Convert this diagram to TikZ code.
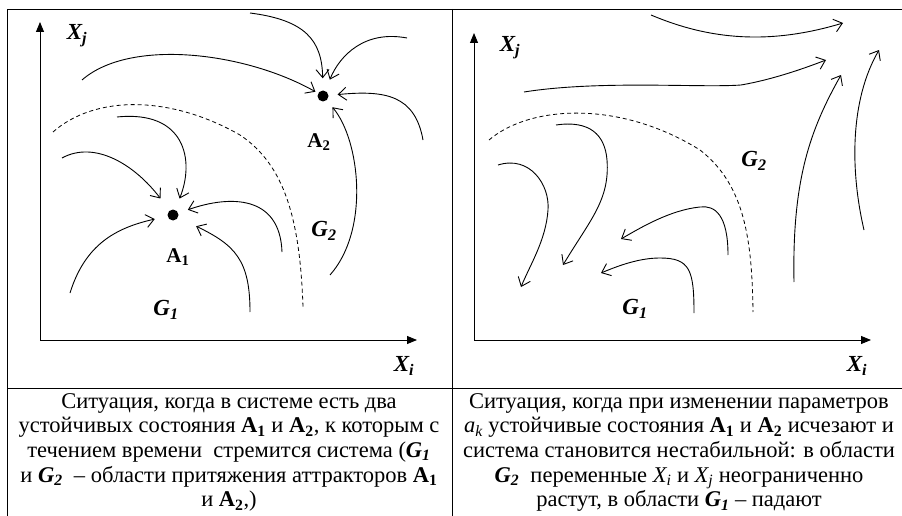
\documentclass[tikz,border=0pt]{standalone}
\usepackage{fontspec}
\setmainfont{Liberation Serif}
\usepackage{tikz}
\usetikzlibrary{arrows.meta, positioning, calc}
\tikzset{
  axisline/.style={line width=0.9pt, -{Triangle[length=10pt, width=8pt]}},
  flowline/.style={line width=0.9pt, -{Straight Barb[length=8pt, width=13pt]}},
  border/.style={dashed, line width=0.8pt, dash pattern=on 4pt off 3pt},
  frame/.style={line width=0.9pt},
  attractor/.style={circle, fill=black, inner sep=0pt, minimum size=11pt},
  lbl/.style={font=\fontsize{23}{25}\selectfont\bfseries\itshape, inner sep=0pt},
  albl/.style={font=\fontsize{21}{23}\selectfont\bfseries, inner sep=0pt},
  captext/.style={align=center, anchor=north, inner sep=0pt, font=\fontsize{22.5}{24.7}\selectfont}
}

\begin{document}
\begin{tikzpicture}[x=1pt, y=-1pt]
  \useasboundingbox (0,0) rectangle (902,516);

  % Рамка таблицы
  \draw[frame] (7,516) -- (7,9) -- (902,9);
  \draw[frame] (452.5,9) -- (452.5,516);
  \draw[frame] (7,388) -- (902,388);

  % ---------- Левая панель ----------
  \draw[axisline] (40,340) -- (40,22);
  \draw[axisline] (40,340) -- (417,340);
  \node[lbl] (xj1) at (77,36) {X\textsubscript{j}};
  \node[lbl] (xi1) at (404,366) {X\textsubscript{i}};

  % Аттракторы
  \node[attractor] (a1) at (173,215) {};
  \node[attractor] (a2) at (323,96) {};
  \node[albl] (a1lbl) at (178,257) {A\textsubscript{1}};
  \node[albl] (a2lbl) at (319,142) {A\textsubscript{2}};
  \node[lbl] (g1l) at (166,310) {G\textsubscript{1}};
  \node[lbl] (g2l) at (324,231) {G\textsubscript{2}};

  % Граница областей
  \draw[border] (53,132) .. controls (95,95) and (170,95) .. (240,135)
    .. controls (285,165) and (300,220) .. (303,307);

  % Траектории к A2
  \draw[flowline, shorten >=3pt] (82,80) .. controls (130,38) and (245,52) .. (a2);
  \draw[flowline, shorten >=12pt] (250,13) .. controls (305,20) and (322,40) .. (a2);
  \draw[flowline, shorten >=12pt] (407,38) .. controls (365,30) and (340,55) .. (a2);
  \draw[flowline, shorten >=9pt] (423,140) .. controls (415,95) and (385,90) .. (a2);
  \draw[flowline, shorten >=9pt] (330,275) .. controls (370,230) and (360,140) .. (a2);

  % Траектории к A1
  \draw[flowline, shorten >=12pt] (117,117) .. controls (185,110) and (195,160) .. (a1);
  \draw[flowline, shorten >=15pt] (62,158) .. controls (95,140) and (135,165) .. (a1);
  \draw[flowline, shorten >=10pt] (282,252) .. controls (280,195) and (230,195) .. (a1);
  \draw[flowline, shorten >=20pt] (250,312) .. controls (250,260) and (235,245) .. (a1);
  \draw[flowline, shorten >=13pt] (70,293) .. controls (85,245) and (115,228) .. (a1);

  % ---------- Правая панель ----------
  \draw[axisline] (474,340) -- (474,33);
  \draw[axisline] (474,340) -- (871,340);
  \node[lbl] (xj2) at (510,48) {X\textsubscript{j}};
  \node[lbl] (xi2) at (857,366) {X\textsubscript{i}};
  \node[lbl] (g1r) at (635,309) {G\textsubscript{1}};
  \node[lbl] (g2r) at (754,161) {G\textsubscript{2}};

  % Граница областей
  \draw[border] (489,140) .. controls (530,105) and (620,100) .. (700,150)
    .. controls (745,185) and (752,240) .. (753,312);

  % Уход вверх (G2)
  \draw[flowline] (651,15) .. controls (710,40) and (770,45) .. (843,23);
  \draw[flowline] (524,92) .. controls (600,80) and (700,88) .. (741,85)
    .. controls (770,80) and (800,70) .. (826,60);
  \draw[flowline] (794,282) .. controls (792,180) and (810,130) .. (841,75);
  \draw[flowline] (864,230) .. controls (850,170) and (850,100) .. (879,50);

  % Уход вниз (G1)
  \draw[flowline] (498,165) .. controls (530,155) and (550,185) .. (548,210)
    .. controls (546,240) and (530,265) .. (521,287);
  \draw[flowline] (556,125) .. controls (590,120) and (605,135) .. (607,160)
    .. controls (610,200) and (590,220) .. (563,265);
  \draw[flowline] (728,255) .. controls (728,215) and (715,205) .. (700,207)
    .. controls (670,210) and (640,228) .. (621,239);
  \draw[flowline] (694,313) .. controls (694,270) and (690,258) .. (660,258)
    .. controls (640,258) and (620,265) .. (601,273);

  % Подписи
  \node[captext] (capl) at (229,393) {Ситуация, когда в системе есть два\\
    устойчивых состояния \textbf{A\textsubscript{1}} и \textbf{A\textsubscript{2}}, к которым с\\
    течением времени\ \ стремится система (\textbf{\textit{G\textsubscript{1}}}\\
    и \textbf{\textit{G\textsubscript{2}}}\ \ – области притяжения аттракторов \textbf{A\textsubscript{1}}\\
    и \textbf{A\textsubscript{2}},)};
  \node[captext] (capr) at (679,393) {Ситуация, когда при изменении параметров\\
    \textit{a\textsubscript{k}} устойчивые состояния \textbf{A\textsubscript{1}} и \textbf{A\textsubscript{2}} исчезают и\\
    система становится нестабильной: в области\\
    \textbf{\textit{G\textsubscript{2}}}\ \ переменные \textit{X\textsubscript{i}} и \textit{X\textsubscript{j}} неограниченно\\
    растут, в области \textbf{\textit{G\textsubscript{1}}} – падают};
\end{tikzpicture}
\end{document}
